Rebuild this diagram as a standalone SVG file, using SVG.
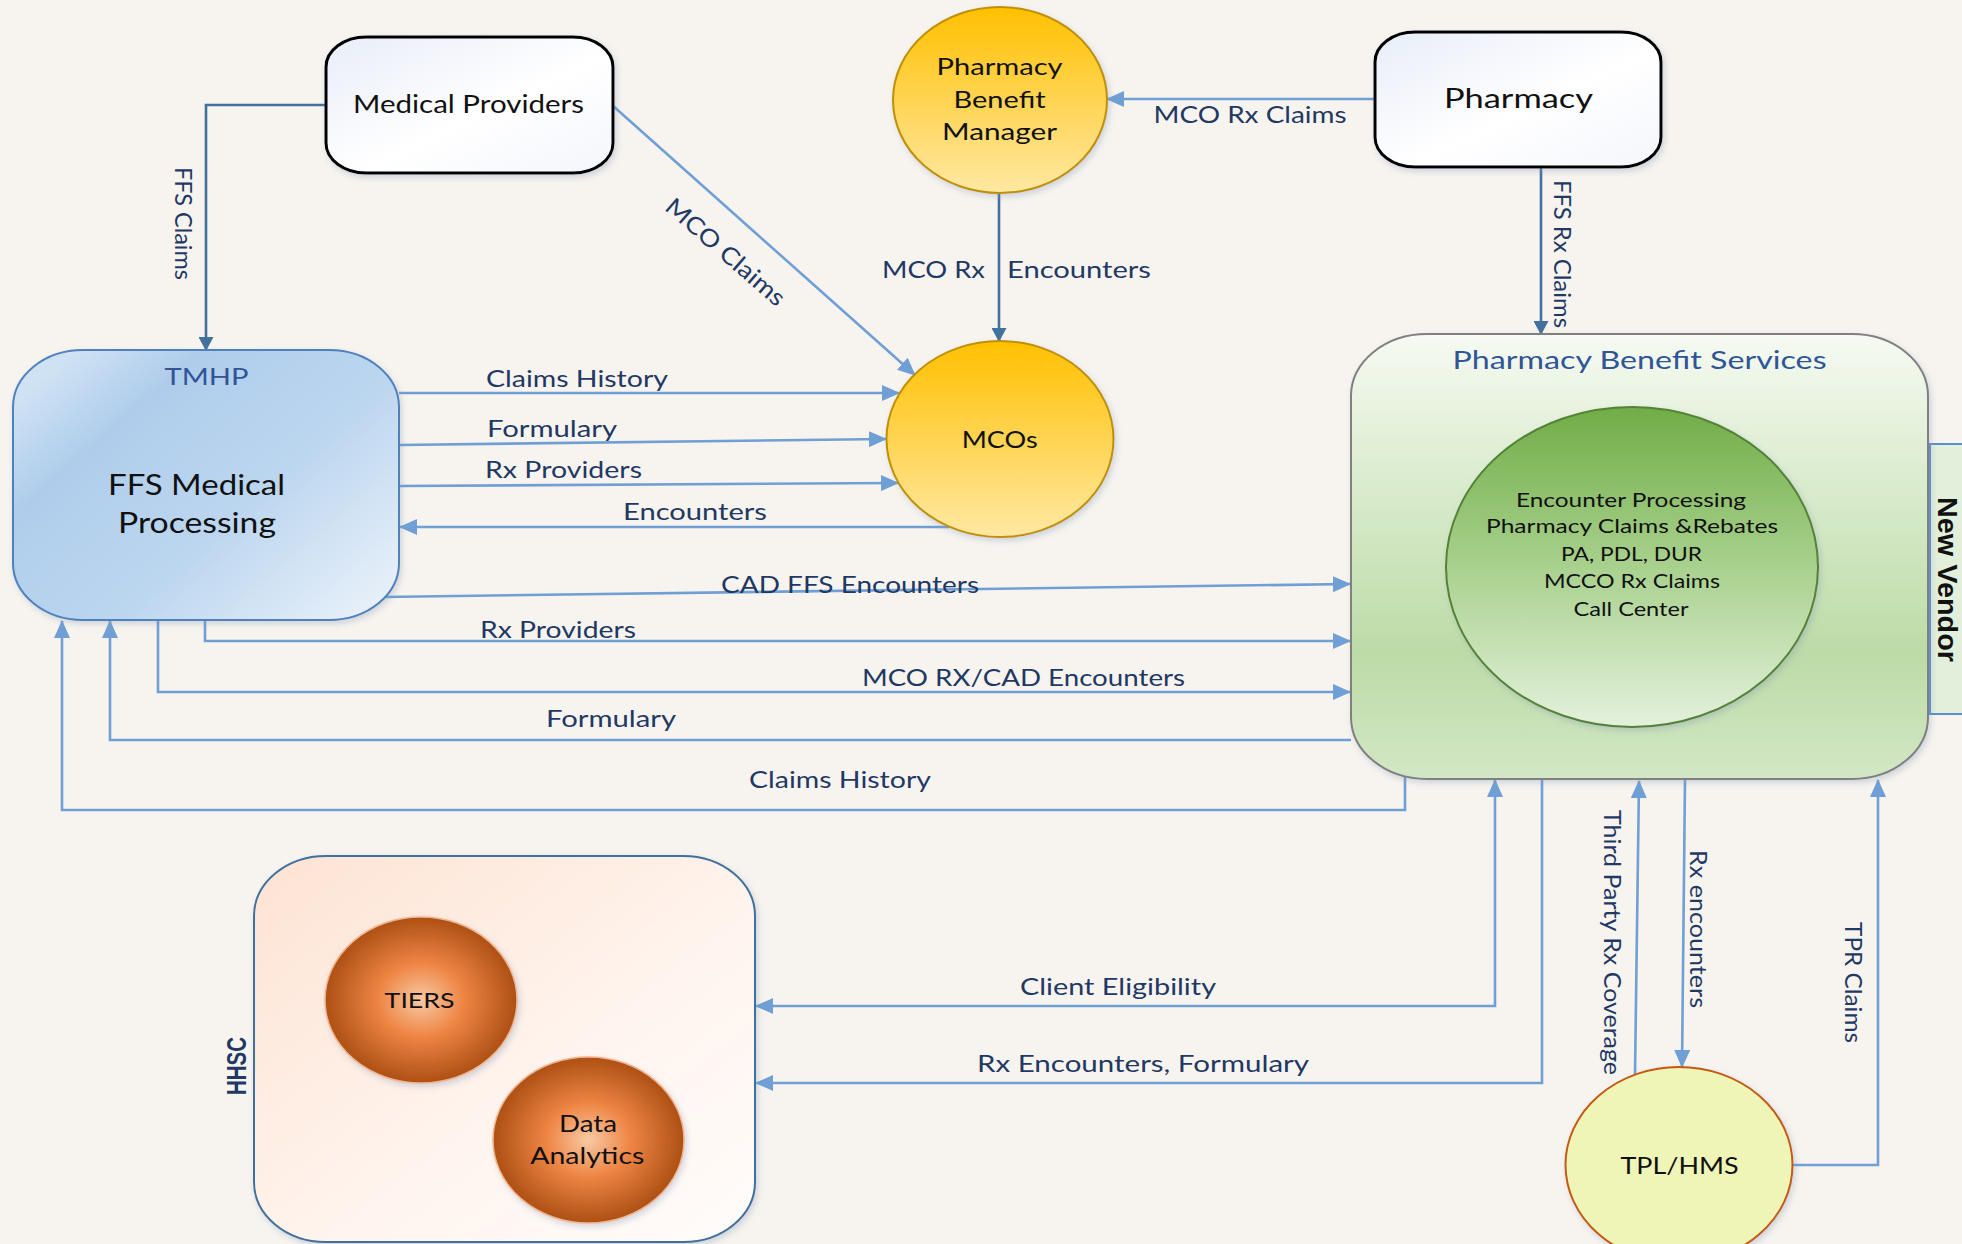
<svg xmlns="http://www.w3.org/2000/svg" width="1962" height="1244" viewBox="0 0 1962 1244">
<defs>
<style>
.lbl{font-family:Lato,"Open Sans","Liberation Sans",sans-serif;font-size:24px;fill:#1f3864;text-anchor:middle}
.ntx{font-family:Lato,"Open Sans","Liberation Sans",sans-serif;fill:#111;text-anchor:middle}
.ttl{font-family:Lato,"Open Sans","Liberation Sans",sans-serif;fill:#2f5597;text-anchor:middle}
.cl{fill:none;stroke:#6f9fd4;stroke-width:2.6}
.cd{fill:none;stroke:#41719c;stroke-width:2.6}
.box{stroke:#000;stroke-width:3}
</style>
<marker id="aL" markerUnits="userSpaceOnUse" markerWidth="18" markerHeight="16" viewBox="0 0 18 16" refX="17" refY="8" orient="auto-start-reverse"><path d="M0,0 L18,8 L0,16 Z" fill="#6f9fd4"/></marker>
<marker id="aD" markerUnits="userSpaceOnUse" markerWidth="14" markerHeight="15" viewBox="0 0 14 15" refX="13" refY="7.5" orient="auto-start-reverse"><path d="M0,0 L14,7.5 L0,15 Z" fill="#41719c"/></marker>
<filter id="sh" x="-10%" y="-10%" width="130%" height="130%"><feDropShadow dx="2" dy="3" stdDeviation="3" flood-color="#7f93b3" flood-opacity="0.35"/></filter>
<linearGradient id="gWhite" x1="0" y1="0" x2="1" y2="1"><stop offset="0" stop-color="#e8edf8"/><stop offset="0.55" stop-color="#ffffff"/><stop offset="1" stop-color="#f4f6fc"/></linearGradient>
<linearGradient id="gTmhp" x1="0" y1="0.2" x2="1" y2="1"><stop offset="0" stop-color="#cfe2f4"/><stop offset="0.2" stop-color="#afcdeb"/><stop offset="0.55" stop-color="#bcd6ef"/><stop offset="1" stop-color="#eef4fb"/></linearGradient>
<linearGradient id="gGold" x1="0" y1="0" x2="0" y2="1"><stop offset="0" stop-color="#ffc000"/><stop offset="1" stop-color="#ffe8a3"/></linearGradient>
<linearGradient id="gPbs" x1="0" y1="0" x2="0" y2="1"><stop offset="0" stop-color="#f6faf2"/><stop offset="0.35" stop-color="#d9ebcc"/><stop offset="0.72" stop-color="#bcdba6"/><stop offset="1" stop-color="#d3e7c5"/></linearGradient>
<linearGradient id="gInner" x1="0" y1="0" x2="0" y2="1"><stop offset="0" stop-color="#70ad47"/><stop offset="0.5" stop-color="#a9d18e"/><stop offset="1" stop-color="#e4f1dc"/></linearGradient>
<linearGradient id="gHhsc" x1="0" y1="0" x2="1" y2="1"><stop offset="0" stop-color="#fde3d3"/><stop offset="0.6" stop-color="#fff5ef"/><stop offset="1" stop-color="#fffcfa"/></linearGradient>
<radialGradient id="gOrange" cx="0.5" cy="0.5" r="0.5"><stop offset="0" stop-color="#f8c9a4"/><stop offset="0.45" stop-color="#ee8443"/><stop offset="1" stop-color="#ad5014"/></radialGradient>
</defs>
<rect x="0" y="0" width="1962" height="1244" fill="#f7f4ef"/>

<g id="connectors">
  <g id="c-ffs-claims"><path class="cd" d="M326,105 H206 V350" marker-end="url(#aD)"/>
    <text class="lbl" font-size="33" textLength="113" lengthAdjust="spacingAndGlyphs" transform="translate(175,223.5) rotate(90)">FFS Claims</text></g>
  <g id="c-mco-claims"><path class="cl" d="M612,105 L915,375" marker-end="url(#aL)"/>
    <text class="lbl" font-size="25" y="9" textLength="150" lengthAdjust="spacingAndGlyphs" transform="translate(726,251.5) rotate(41)">MCO Claims</text></g>
  <g id="c-claims-history"><path class="cl" d="M399,393 H899" marker-end="url(#aL)"/>
    <text class="lbl" x="577" y="387" textLength="182" lengthAdjust="spacingAndGlyphs">Claims History</text></g>
  <g id="c-formulary"><path class="cl" d="M399,445 L886,439" marker-end="url(#aL)"/>
    <text class="lbl" x="552" y="437" textLength="130" lengthAdjust="spacingAndGlyphs">Formulary</text></g>
  <g id="c-rx-providers"><path class="cl" d="M399,486 L898,483" marker-end="url(#aL)"/>
    <text class="lbl" x="563.5" y="478" textLength="157" lengthAdjust="spacingAndGlyphs">Rx Providers</text></g>
  <g id="c-encounters"><path class="cl" d="M949,527 H400" marker-end="url(#aL)"/>
    <text class="lbl" x="695" y="520" textLength="144" lengthAdjust="spacingAndGlyphs">Encounters</text></g>
  <g id="c-pbm-mco"><path class="cd" d="M999,193 V341" marker-end="url(#aD)"/>
    <text class="lbl" x="933.5" y="278" textLength="103" lengthAdjust="spacingAndGlyphs">MCO Rx</text>
    <text class="lbl" x="1079" y="278" textLength="144" lengthAdjust="spacingAndGlyphs">Encounters</text></g>
  <g id="c-mco-rx-claims"><path class="cl" d="M1375,99 H1107" marker-end="url(#aL)"/>
    <text class="lbl" x="1250" y="123" textLength="193" lengthAdjust="spacingAndGlyphs">MCO Rx Claims</text></g>
  <g id="c-ffs-rx-claims"><path class="cd" d="M1541,167 V334" marker-end="url(#aD)"/>
    <text class="lbl" font-size="33" textLength="148" lengthAdjust="spacingAndGlyphs" transform="translate(1554,254) rotate(90)">FFS Rx Claims</text></g>
  <g id="c-cad-ffs"><path class="cl" d="M383,597 L1350,584" marker-end="url(#aL)"/>
    <text class="lbl" x="850" y="593" textLength="258" lengthAdjust="spacingAndGlyphs">CAD FFS Encounters</text></g>
  <g id="c-rx-providers2"><path class="cl" d="M205,620 V641 H1350" marker-end="url(#aL)"/>
    <text class="lbl" x="558" y="638" textLength="156" lengthAdjust="spacingAndGlyphs">Rx Providers</text></g>
  <g id="c-mco-rx-cad"><path class="cl" d="M158,620 V692 H1350" marker-end="url(#aL)"/>
    <text class="lbl" x="1023.5" y="686" textLength="323" lengthAdjust="spacingAndGlyphs">MCO RX/CAD Encounters</text></g>
  <g id="c-formulary2"><path class="cl" d="M1351,740 H110 V621" marker-end="url(#aL)"/>
    <text class="lbl" x="611" y="727" textLength="130" lengthAdjust="spacingAndGlyphs">Formulary</text></g>
  <g id="c-claims-history2"><path class="cl" d="M1405,777 V810 H62 V621" marker-end="url(#aL)"/>
    <text class="lbl" x="840" y="788" textLength="182" lengthAdjust="spacingAndGlyphs">Claims History</text></g>
  <g id="c-client-elig"><path class="cl" d="M1495,780 V1006 H756" marker-start="url(#aL)" marker-end="url(#aL)"/>
    <text class="lbl" x="1118" y="995" textLength="196" lengthAdjust="spacingAndGlyphs">Client Eligibility</text></g>
  <g id="c-rx-enc-form"><path class="cl" d="M1542,779 V1083 H756" marker-end="url(#aL)"/>
    <text class="lbl" x="1143" y="1072" textLength="332" lengthAdjust="spacingAndGlyphs">Rx Encounters, Formulary</text></g>
  <g id="c-third-party"><path class="cl" d="M1635,1075 L1639,781" stroke-width="3.2" marker-end="url(#aL)"/>
    <text class="lbl" font-size="29" textLength="265" lengthAdjust="spacingAndGlyphs" transform="translate(1604,942.5) rotate(90)">Third Party Rx Coverage</text></g>
  <g id="c-rx-encounters"><path class="cl" d="M1685,779 L1682,1067" marker-end="url(#aL)"/>
    <text class="lbl" font-size="30" textLength="158" lengthAdjust="spacingAndGlyphs" transform="translate(1690,929) rotate(90)">Rx encounters</text></g>
  <g id="c-tpr-claims"><path class="cl" d="M1792,1165 H1878 V780" marker-end="url(#aL)"/>
    <text class="lbl" font-size="30" textLength="121" lengthAdjust="spacingAndGlyphs" transform="translate(1845,982.5) rotate(90)">TPR Claims</text></g>
</g>

<g id="medical-providers">
  <rect x="326" y="37" width="287" height="136" rx="40" ry="30" fill="url(#gWhite)" class="box" filter="url(#sh)"/>
  <text class="ntx" x="468.5" y="113" font-size="25" textLength="231" lengthAdjust="spacingAndGlyphs">Medical Providers</text>
</g>
<g id="pharmacy">
  <rect x="1375" y="32" width="286" height="135" rx="40" ry="30" fill="url(#gWhite)" class="box" filter="url(#sh)"/>
  <text class="ntx" x="1518.5" y="108" font-size="27" textLength="149" lengthAdjust="spacingAndGlyphs">Pharmacy</text>
</g>
<g id="tmhp">
  <rect x="13" y="350" width="386" height="270" rx="70" ry="57" fill="url(#gTmhp)" stroke="#4f81bd" stroke-width="2" filter="url(#sh)"/>
  <text class="ttl" x="206.6" y="385" font-size="24" textLength="84" lengthAdjust="spacingAndGlyphs">TMHP</text>
  <text class="ntx" x="196.5" y="495" font-size="28" textLength="177" lengthAdjust="spacingAndGlyphs">FFS Medical</text>
  <text class="ntx" x="197" y="533" font-size="28" textLength="158" lengthAdjust="spacingAndGlyphs">Processing</text>
</g>
<g id="pbm">
  <ellipse cx="1000" cy="100" rx="107" ry="93" fill="url(#gGold)" stroke="#bf9000" stroke-width="2" filter="url(#sh)"/>
  <text class="ntx" x="999.6" y="75" font-size="24" textLength="126" lengthAdjust="spacingAndGlyphs">Pharmacy</text>
  <text class="ntx" x="999.6" y="108" font-size="24" textLength="92" lengthAdjust="spacingAndGlyphs">Benefit</text>
  <text class="ntx" x="999.5" y="140" font-size="24" textLength="115" lengthAdjust="spacingAndGlyphs">Manager</text>
</g>
<g id="mcos">
  <ellipse cx="1000" cy="439" rx="113.5" ry="98" fill="url(#gGold)" stroke="#bf9000" stroke-width="2" filter="url(#sh)"/>
  <text class="ntx" x="999.7" y="448" font-size="24" textLength="76" lengthAdjust="spacingAndGlyphs">MCOs</text>
</g>
<g id="new-vendor">
  <rect x="1930" y="444" width="40" height="270" fill="#e2efda" stroke="#5b8fcf" stroke-width="2"/>
  <text font-family="'Liberation Sans',Arial,sans-serif" font-weight="bold" font-size="28" fill="#111" text-anchor="middle" textLength="165" lengthAdjust="spacingAndGlyphs" transform="translate(1938,579.5) rotate(90)">New Vendor</text>
</g>
<g id="pharmacy-benefit-services">
  <rect x="1351" y="334" width="577" height="445" rx="76" ry="62" fill="url(#gPbs)" stroke="#808080" stroke-width="2" filter="url(#sh)"/>
  <text class="ttl" x="1639.6" y="369" font-size="25" textLength="374" lengthAdjust="spacingAndGlyphs">Pharmacy Benefit Services</text>
  <ellipse cx="1632" cy="567" rx="186" ry="160" fill="url(#gInner)" stroke="#548235" stroke-width="2" filter="url(#sh)"/>
  <text class="ntx" x="1631" y="507" font-size="20" textLength="230" lengthAdjust="spacingAndGlyphs">Encounter Processing</text>
  <text class="ntx" x="1632" y="533" font-size="20" textLength="292" lengthAdjust="spacingAndGlyphs">Pharmacy Claims &amp;Rebates</text>
  <text class="ntx" x="1631.5" y="561" font-size="20" textLength="141" lengthAdjust="spacingAndGlyphs">PA, PDL, DUR</text>
  <text class="ntx" x="1632" y="588" font-size="20" textLength="176" lengthAdjust="spacingAndGlyphs">MCCO Rx Claims</text>
  <text class="ntx" x="1631" y="616" font-size="20" textLength="115" lengthAdjust="spacingAndGlyphs">Call Center</text>
</g>
<g id="hhsc">
  <rect x="254" y="856" width="501" height="386" rx="72" ry="60" fill="url(#gHhsc)" stroke="#41719c" stroke-width="2" filter="url(#sh)"/>
  <text font-family="'Liberation Sans',Arial,sans-serif" font-weight="bold" font-size="28" fill="#1f3864" text-anchor="middle" textLength="58" lengthAdjust="spacingAndGlyphs" transform="translate(246,1066) rotate(-90)">HHSC</text>
</g>
<g id="tiers">
  <ellipse cx="421" cy="1000" rx="96" ry="83" fill="url(#gOrange)" stroke="#f2b28c" stroke-width="1.5" filter="url(#sh)"/>
  <text class="ntx" x="419.6" y="1008" font-size="22" textLength="70" lengthAdjust="spacingAndGlyphs">TIERS</text>
</g>
<g id="data-analytics">
  <ellipse cx="588.5" cy="1140" rx="95.5" ry="83" fill="url(#gOrange)" stroke="#f2b28c" stroke-width="1.5" filter="url(#sh)"/>
  <text class="ntx" x="588" y="1132" font-size="23" textLength="58" lengthAdjust="spacingAndGlyphs">Data</text>
  <text class="ntx" x="587.3" y="1164" font-size="23" textLength="114" lengthAdjust="spacingAndGlyphs">Analytics</text>
</g>
<g id="tpl-hms">
  <ellipse cx="1679" cy="1165" rx="113.5" ry="98" fill="#eff5b6" stroke="#c55a11" stroke-width="2" filter="url(#sh)"/>
  <text class="ntx" x="1679.5" y="1174" font-size="24" textLength="118" lengthAdjust="spacingAndGlyphs">TPL/HMS</text>
</g>
</svg>
